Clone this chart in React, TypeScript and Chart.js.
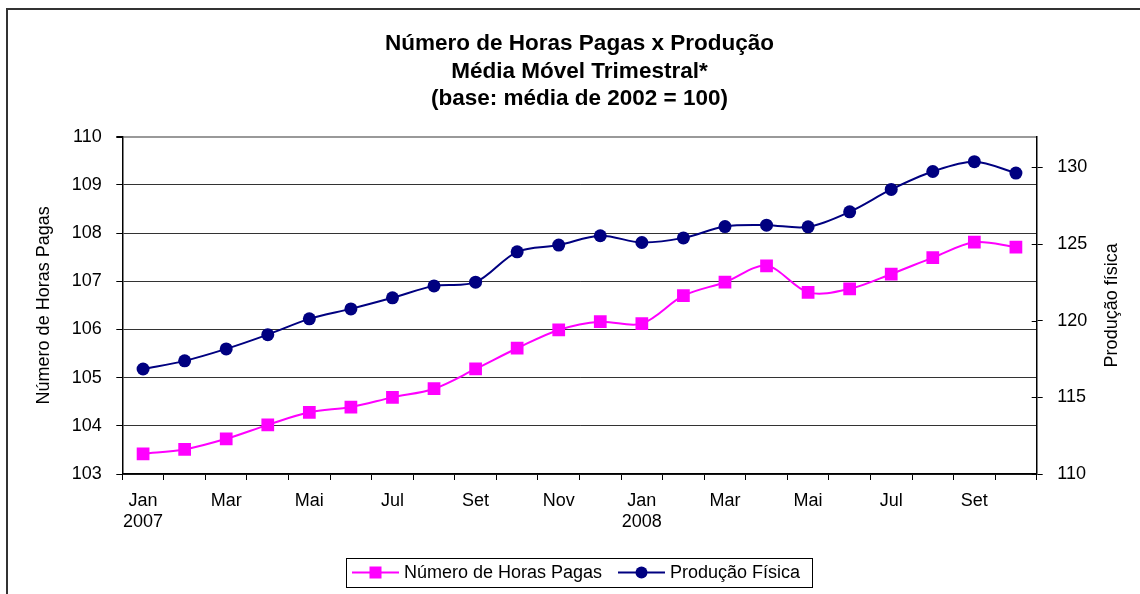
import React, { useEffect, useRef } from 'react';
import { Chart, registerables } from 'chart.js';

Chart.register(...registerables);

// ---------- data ----------
const categories: string[] = [
  'Jan 2007', 'Fev 2007', 'Mar 2007', 'Abr 2007', 'Mai 2007', 'Jun 2007',
  'Jul 2007', 'Ago 2007', 'Set 2007', 'Out 2007', 'Nov 2007', 'Dez 2007',
  'Jan 2008', 'Fev 2008', 'Mar 2008', 'Abr 2008', 'Mai 2008', 'Jun 2008',
  'Jul 2008', 'Ago 2008', 'Set 2008', 'Out 2008',
];

const tickLabels: (string | string[])[] = [
  ['Jan', '2007'], '', 'Mar', '', 'Mai', '', 'Jul', '', 'Set', '', 'Nov', '',
  ['Jan', '2008'], '', 'Mar', '', 'Mai', '', 'Jul', '', 'Set', '',
];

const horasPagas: number[] = [
  103.42, 103.51, 103.73, 104.02, 104.28, 104.39, 104.59, 104.77, 105.18, 105.61, 105.99,
  106.16, 106.12, 106.70, 106.98, 107.32, 106.77, 106.84, 107.15, 107.49, 107.81, 107.71,
];

const producaoFisica: number[] = [
  116.85, 117.38, 118.16, 119.09, 120.12, 120.77, 121.49, 122.27, 122.51, 124.49, 124.93,
  125.54, 125.10, 125.40, 126.14, 126.23, 126.12, 127.10, 128.56, 129.73, 130.37, 129.63,
];

const seriesNames: string[] = ['Número de Horas Pagas', 'Produção Física'];
const titleLines: string[] = [
  'Número de Horas Pagas x Produção',
  'Média Móvel Trimestral*',
  '(base: média de 2002 = 100)',
];
const leftAxisTitle = 'Número de Horas Pagas';
const rightAxisTitle = 'Produção física';

// ---------- styles ----------
const FONT = '"Liberation Sans", Arial, sans-serif';
const PINK = '#FF00FF';
const NAVY = '#000080';

const titlePlugin = {
  id: 'customTitle',
  afterDraw(chart: any) {
    const { ctx, chartArea } = chart;
    ctx.save();
    ctx.font = `bold 22.5px ${FONT}`;
    ctx.fillStyle = '#000';
    ctx.textAlign = 'center';
    ctx.textBaseline = 'middle';
    const cx = (chartArea.left + chartArea.right) / 2;
    titleLines.forEach((t, i) => ctx.fillText(t, cx, 43.5 + i * 27.8));
    ctx.restore();
  },
};

const rightAxisExtras = {
  id: 'rightAxisExtras',
  afterDraw(chart: any) {
    const { ctx, chartArea } = chart;
    const s = chart.scales.y1;
    ctx.save();
    ctx.strokeStyle = '#000';
    ctx.lineWidth = 1;
    s.ticks.forEach((t: any) => {
      const y = Math.round(s.getPixelForValue(t.value)) + 0.5;
      ctx.beginPath();
      ctx.moveTo(chartArea.right - 5, y);
      ctx.lineTo(chartArea.right, y);
      ctx.stroke();
    });
    // right axis title, reading bottom-to-top
    ctx.translate(1112, (chartArea.top + chartArea.bottom) / 2);
    ctx.rotate(-Math.PI / 2);
    ctx.font = `18px ${FONT}`;
    ctx.fillStyle = '#000';
    ctx.textAlign = 'center';
    ctx.textBaseline = 'middle';
    ctx.fillText(rightAxisTitle, 0, 0);
    ctx.restore();
  },
};

const legendPlugin = {
  id: 'customLegend',
  afterDraw(chart: any) {
    const { ctx } = chart;
    ctx.save();
    ctx.strokeStyle = '#000';
    ctx.lineWidth = 1;
    ctx.strokeRect(346.5, 558.5, 466, 29);
    const cy = 572.5;
    const starts = [352, 618];
    chart.data.datasets.forEach((ds: any, i: number) => {
      const x0 = starts[i];
      ctx.strokeStyle = ds.borderColor;
      ctx.lineWidth = 2;
      ctx.beginPath();
      ctx.moveTo(x0, cy);
      ctx.lineTo(x0 + 47, cy);
      ctx.stroke();
      ctx.fillStyle = ds.backgroundColor;
      const mx = x0 + 23.5;
      if (ds.pointStyle === 'rect') {
        ctx.fillRect(mx - 6, cy - 6, 12, 12);
      } else {
        ctx.beginPath();
        ctx.arc(mx, cy, 6, 0, Math.PI * 2);
        ctx.fill();
      }
      ctx.fillStyle = '#000';
      ctx.font = `18px ${FONT}`;
      ctx.textAlign = 'left';
      ctx.textBaseline = 'middle';
      ctx.fillText(ds.label, x0 + 52, cy + 1);
    });
    ctx.restore();
  },
};

export default function App() {
  const ref = useRef<HTMLCanvasElement>(null);

  useEffect(() => {
    if (!ref.current) return;
    const tickFont = { family: FONT, size: 18 };
    const chart = new Chart(ref.current, {
      type: 'line',
      data: {
        labels: categories,
        datasets: [
          {
            label: seriesNames[0],
            data: horasPagas,
            yAxisID: 'y',
            borderColor: PINK,
            backgroundColor: PINK,
            borderWidth: 2,
            pointStyle: 'rect',
            pointRadius: 9,
            pointBorderWidth: 0,
            tension: 0.33,
          },
          {
            label: seriesNames[1],
            data: producaoFisica,
            yAxisID: 'y1',
            borderColor: NAVY,
            backgroundColor: NAVY,
            borderWidth: 2,
            pointStyle: 'circle',
            pointRadius: 6.5,
            pointBorderWidth: 0,
            tension: 0.33,
          },
        ],
      },
      options: {
        responsive: false,
        animation: false,
        layout: { padding: { top: 136.7, left: 0, right: 0, bottom: 0 } },
        plugins: {
          legend: { display: false },
          title: { display: false },
          tooltip: { enabled: false },
        },
        scales: {
          x: {
            type: 'category',
            offset: true,
            grid: {
              offset: true,
              drawOnChartArea: false,
              drawTicks: true,
              tickLength: 6,
              color: '#000',
            },
            border: { color: '#000', width: 1.5 },
            ticks: {
              autoSkip: false,
              maxRotation: 0,
              minRotation: 0,
              padding: 10,
              color: '#000',
              font: tickFont,
              callback: (_v: any, i: number) => tickLabels[i],
            },
            afterFit: (s: any) => {
              s.height = 120;
            },
          },
          y: {
            position: 'left',
            min: 103,
            max: 110,
            ticks: { stepSize: 1, padding: 14.6, color: '#000', font: tickFont },
            grid: {
              color: (c: any) => (c.tick && c.tick.value === 110 ? '#999' : '#333'),
              lineWidth: (c: any) => (c.tick && c.tick.value === 110 ? 2 : 1),
              tickColor: '#000',
              tickLength: 6,
            },
            border: { color: '#000', width: 1.5 },
            title: {
              display: true,
              text: leftAxisTitle,
              color: '#000',
              font: { family: FONT, size: 18 },
              padding: { top: 33, bottom: 0 },
            },
            afterFit: (s: any) => {
              s.width = 122.3;
            },
          },
          y1: {
            position: 'right',
            min: 110,
            max: 132,
            ticks: {
              stepSize: 5,
              includeBounds: false,
              padding: 14.6,
              color: '#000',
              font: tickFont,
            },
            grid: {
              drawOnChartArea: false,
              tickLength: 6,
              color: '#000',
            },
            border: { color: '#000', width: 1.5 },
            title: { display: false },
            afterFit: (s: any) => {
              s.width = 103.3;
            },
          },
        },
      },
      plugins: [titlePlugin, rightAxisExtras, legendPlugin],
    } as any);
    return () => chart.destroy();
  }, []);

  return (
    <>
      <canvas
        ref={ref}
        width={1140}
        height={594}
        style={{ position: 'fixed', left: 0, top: 0, width: 1140, height: 594 }}
      />
      <div
        style={{
          position: 'fixed',
          left: 6,
          top: 8,
          width: 1300,
          height: 800,
          border: '2px solid #333',
          pointerEvents: 'none',
        }}
      />
    </>
  );
}
